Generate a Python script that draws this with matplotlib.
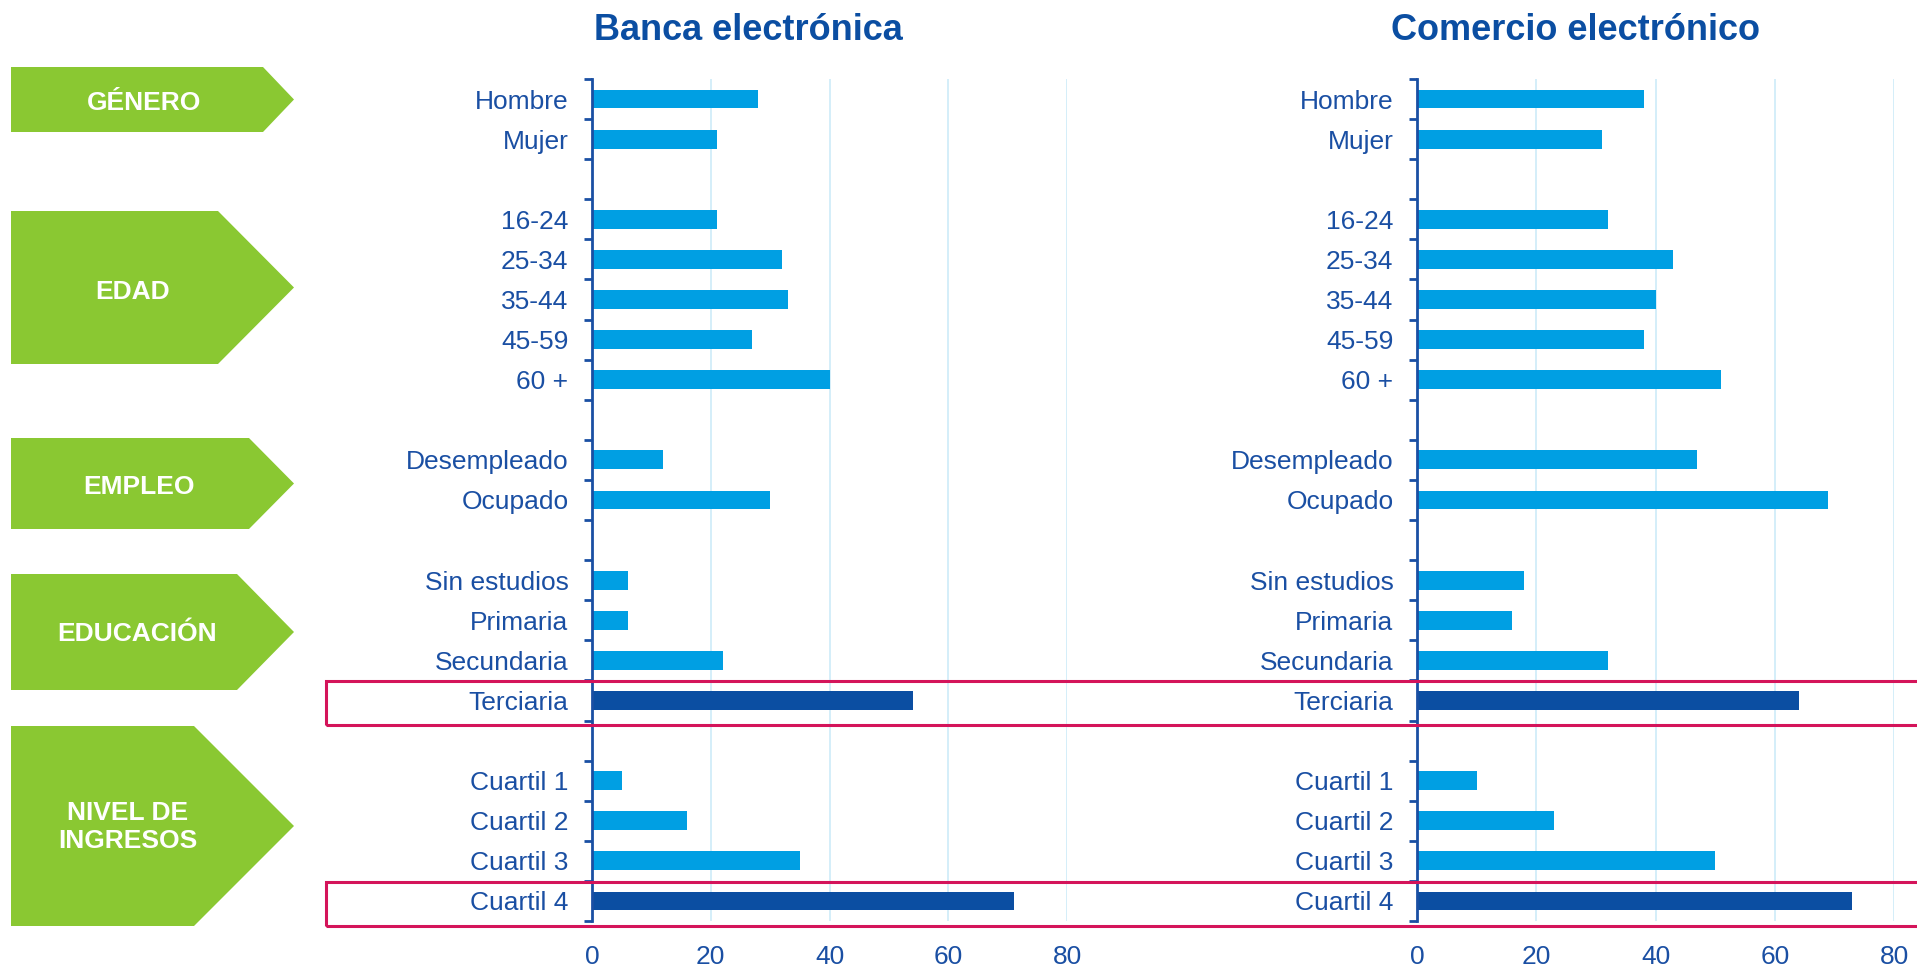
import numpy as np
import matplotlib
matplotlib.use("Agg")
import matplotlib.pyplot as plt
from matplotlib.patches import Polygon, Rectangle
from matplotlib.transforms import blended_transform_factory

plt.rcParams['font.family'] = ['Liberation Sans', 'DejaVu Sans']

# categories ("" = empty gap row between groups)
categories = ["Hombre", "Mujer", "",
              "16-24", "25-34", "35-44", "45-59", "60 +", "",
              "Desempleado", "Ocupado", "",
              "Sin estudios", "Primaria", "Secundaria", "Terciaria", "",
              "Cuartil 1", "Cuartil 2", "Cuartil 3", "Cuartil 4"]
banca = [28, 21, None,
         21, 32, 33, 27, 40, None,
         12, 30, None,
         6, 6, 22, 54, None,
         5, 16, 35, 71]
comercio = [38, 31, None,
            32, 43, 40, 38, 51, None,
            47, 69, None,
            18, 16, 32, 64, None,
            10, 23, 50, 73]
highlight = ["Terciaria", "Cuartil 4"]
titles = ["Banca electrónica", "Comercio electrónico"]
xticks = [0, 20, 40, 60, 80]

groups = ["GÉNERO", "EDAD", "EMPLEO", "EDUCACIÓN", "NIVEL DE\nINGRESOS"]

TEXT = "#1A4FA3"
LIGHT = "#009FE3"
DARK = "#0B4EA2"
GREEN = "#8AC832"
RED = "#D4145A"
GRID = "#CDEBF8"

W, H = 1917, 965
fig = plt.figure(figsize=(W / 100, H / 100), dpi=100)

def px(x, y):
    return x / W, 1 - y / H

ax_top, ax_bot = 79, 921
axes = []
for left, right in [(592, 1067), (1417, 1894)]:
    ax = fig.add_axes([left / W, 1 - ax_bot / H, (right - left) / W, (ax_bot - ax_top) / H])
    axes.append(ax)

y = np.arange(len(categories))
for ax, vals, title, tx in zip(axes, [banca, comercio], titles, [748, 1575]):
    v = np.array([np.nan if a is None else a for a in vals], dtype=float)
    colors = [DARK if c in highlight else LIGHT for c in categories]
    ax.barh(y, np.nan_to_num(v), height=0.47, color=colors, zorder=3)
    ax.set_xlim(0, 80)
    ax.set_ylim(len(categories) - 0.5, -0.5)
    ax.set_yticks(y)
    ax.set_yticklabels(categories, color=TEXT, fontsize=19)
    ax.set_yticks(np.arange(len(categories) + 1) - 0.5, minor=True)
    ax.tick_params(axis='y', which='major', length=0, pad=17)
    ax.tick_params(axis='y', which='minor', length=6, width=2, color=TEXT, direction='out')
    ax.set_xticks(xticks)
    ax.set_xticklabels([str(t) for t in xticks], color=TEXT, fontsize=19)
    ax.tick_params(axis='x', length=0, pad=17)
    ax.grid(axis='x', color=GRID, linewidth=1.2, zorder=0)
    ax.grid(axis='y', visible=False)
    for s in ['top', 'right', 'bottom']:
        ax.spines[s].set_visible(False)
    ax.spines['left'].set_color(TEXT)
    ax.spines['left'].set_linewidth(2)
    ax.spines['left'].set_zorder(4)
    fig.text(*px(tx, 30), title, ha='center', va='center', fontsize=26,
             fontweight='bold', color=DARK)

# red highlight boxes spanning both charts
tr = blended_transform_factory(fig.transFigure, axes[0].transData)
for name in highlight:
    i = categories.index(name)
    fig.patches.append(Rectangle((326 / W, i + 0.62), 1.0, -1.1, transform=tr,
                                 fill=False, edgecolor=RED, linewidth=2.2,
                                 clip_on=False, zorder=5))

# green arrow labels on the left
boxes = [(67, 132, 263, 144, 103), (211, 364, 218, 133, 292),
         (438, 529, 249, 139, 487), (574, 690, 237, 137, 634),
         (726, 926, 194, 128, 827)]
for (top, bot, rx, lx, ly), label in zip(boxes, groups):
    mid = (top + bot) / 2
    pts = [px(11, top), px(rx, top), px(294, mid), px(rx, bot), px(11, bot)]
    fig.patches.append(Polygon(pts, closed=True, transform=fig.transFigure,
                               facecolor=GREEN, edgecolor='none'))
    fig.text(*px(lx, ly), label, ha='center', va='center', fontsize=19,
             fontweight='bold', color='white', linespacing=1.25)

fig.savefig("out.png", dpi=100)
